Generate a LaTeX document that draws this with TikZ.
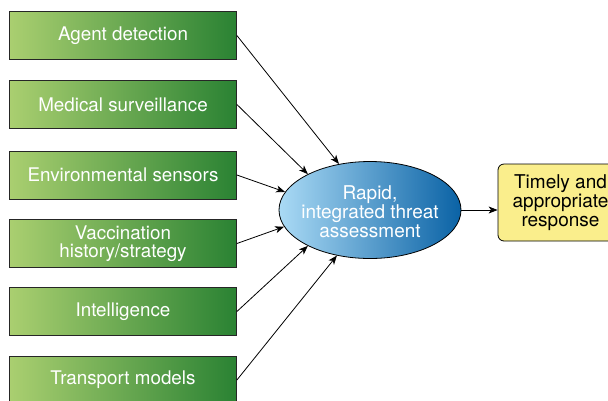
\documentclass[tikz,border=0pt]{standalone}
\usepackage{fontspec}
\setmainfont{TeX Gyre Heros}
\usetikzlibrary{arrows.meta,shapes.geometric}
\definecolor{gl}{HTML}{AACF70}
\definecolor{gd}{HTML}{2A8233}
\definecolor{bl}{HTML}{AADAF5}
\definecolor{bd}{HTML}{0A62A5}
\definecolor{yel}{HTML}{FAEE8C}
\begin{document}
\begin{tikzpicture}[x=1pt,y=-1pt,
  src/.style={draw=black!85, line width=0.8pt, left color=gl, right color=gd,
    minimum width=227pt, minimum height=48pt, inner sep=0pt, text=white,
    font=\fontsize{18.8}{18.5}\selectfont, align=center},
  hub/.style={ellipse, draw=black, line width=0.8pt, left color=bl, right color=bd,
    minimum width=182pt, minimum height=97pt, inner sep=0pt},
  hubtext/.style={text=white, font=\fontsize{19}{19}\selectfont, align=center, inner sep=0pt},
  outbox/.style={draw=black, line width=0.8pt, fill=yel, rounded corners=6pt,
    minimum width=125pt, minimum height=77pt, inner sep=0pt, text=black,
    font=\fontsize{19}{19}\selectfont, align=center},
  arr/.style={-{Stealth[length=9pt,width=7pt,inset=2.5pt]}, line width=0.8pt}]
\useasboundingbox (0,0) rectangle (608,400);
\clip (0,0) rectangle (608,400);
\node[src] (s1) at (123,35.5) {Agent detection};
\node[src] (s2) at (123,104.5) {Medical surveillance};
\node[src] (s3) at (123,175) {Environmental sensors};
\node[src] (s4) at (123,243.5) {Vaccination\\history/strategy};
\node[src] (s5) at (123,311.5) {Intelligence};
\node[src] (s6) at (123,380) {Transport models};
\node[hub] (h) at (370,210) {};
\node[hubtext] (ht) at (370,212) {Rapid,\\integrated threat\\assessment};
\node[outbox] (r) at (560.5,202.5) {Timely and\\appropriate\\response};
\draw[arr] (s1.east) -- (h.124);
\draw[arr] (s2.east) -- (h.150);
\draw[arr] (s3.east) -- (h.168);
\draw[arr] (s4.east) -- (h.191);
\draw[arr] (s5.east) -- (h.210);
\draw[arr] (s6.east) -- (h.234);
\draw[arr] (h.east) -- (h.east -| r.west);
\end{tikzpicture}
\end{document}
